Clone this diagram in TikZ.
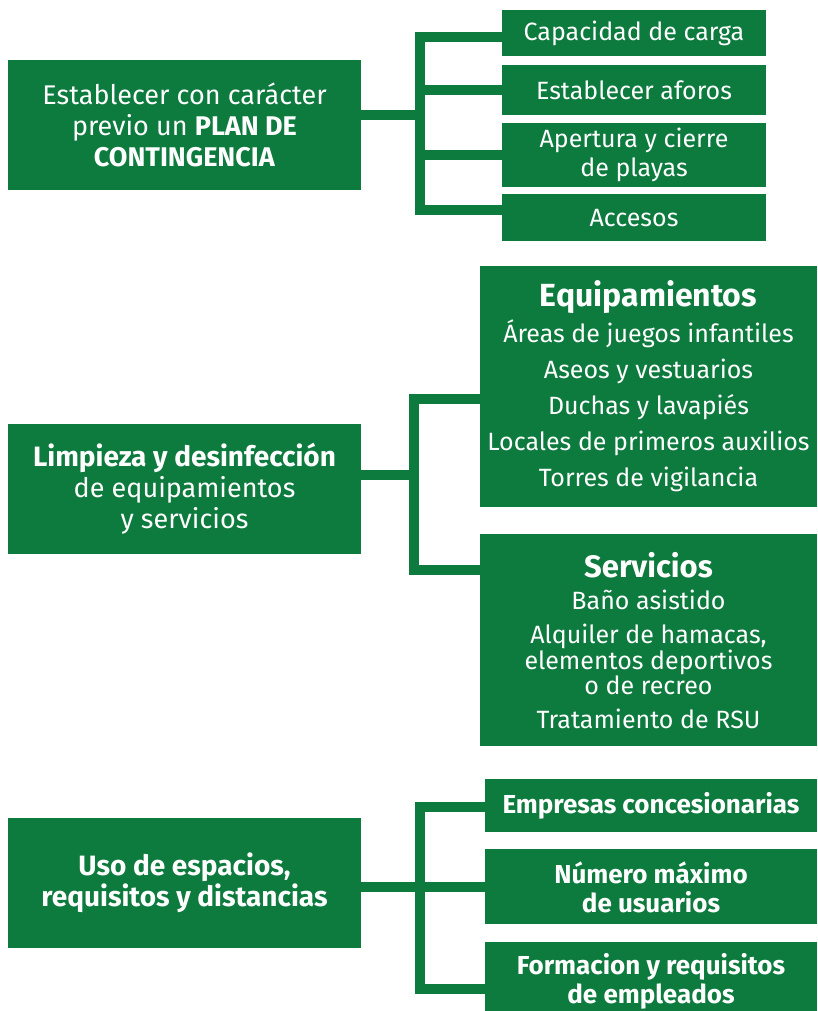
\documentclass[tikz,border=0pt]{standalone}
\usepackage{fontspec}
\setmainfont{Fira Sans}
\usepackage{tikz}
\usetikzlibrary{positioning,calc}
\definecolor{leafgreen}{RGB}{13,122,62}

\begin{document}
\begin{tikzpicture}[
	x=1pt, y=-1pt,
	every node/.style={font=\fontsize{25}{30}\selectfont},
	box/.style={fill=leafgreen, text=white, align=center, inner sep=0pt, minimum width=353pt, minimum height=130pt, font=\fontsize{27}{31}\selectfont},
	leaf/.style={fill=leafgreen, text=white, align=center, inner sep=0pt, minimum width=264pt},
	wide/.style={leaf, minimum width=337pt},
	link/.style={draw=leafgreen, line width=10pt, line join=miter}
	]
	\useasboundingbox (0,0) rectangle (817,1011);
	
	% first group
	\node[box] (Plan) at (184.5,125) {Establecer con carácter\\ previo un \textbf{PLAN DE}\\ \textbf{CONTINGENCIA}};
	\node[leaf, minimum height=46pt] (Carga) at (634,33) {Capacidad de carga};
	\node[leaf, minimum height=50pt, below=9pt of Carga] (Aforos) {Establecer aforos};
	\node[leaf, minimum height=64pt, below=7pt of Aforos, font=\fontsize{25}{29}\selectfont] (Apertura) {Apertura y cierre\\ de playas};
	\node[leaf, minimum height=47pt, below=7pt of Apertura] (Accesos) {Accesos};
	
	\coordinate (J1) at (420,115);
	\draw[link] ([yshift=10pt]Plan.east) -- (J1);
	\draw[link] ([yshift=-4pt]Carga.west) -| (J1) |- ([yshift=8pt]Accesos.west);
	\draw[link] (J1 |- Aforos.west) -- (Aforos.west);
	\draw[link] (J1 |- Apertura.west) -- (Apertura.west);
	
	% second group
	\node[box] (Limpieza) at (184.5,489) {{\fontsize{28}{31}\selectfont\textbf{Limpieza y desinfección}}\\ de equipamientos\\ y servicios};
	\node[wide, minimum height=241pt, font=\fontsize{25}{36}\selectfont] (Equip) at (648.5,386.5) {{\fontsize{32}{36}\selectfont\textbf{Equipamientos}}\\ Áreas de juegos infantiles\\ Aseos y vestuarios\\ Duchas y lavapiés\\ Locales de primeros auxilios\\ Torres de vigilancia};
	\node[wide, minimum height=212pt, below=27pt of Equip, font=\fontsize{25}{24}\selectfont] (Serv) {{\fontsize{31}{36}\selectfont\textbf{Servicios}}\\[8pt] Baño asistido\\[10pt] Alquiler de hamacas,\\ elementos deportivos\\ o de recreo\\[10pt] Tratamiento de RSU};
	
	\coordinate (J2) at (414,475);
	\draw[link] ([yshift=14pt]Limpieza.east) -- (J2);
	\draw[link] ([yshift=-12pt]Equip.west) -| (J2) |- ([yshift=70pt]Serv.west);
	
	% third group
	\node[box, font=\fontsize{28}{31}\selectfont\bfseries] (Uso) at (184.5,883) {Uso de espacios,\\ requisitos y distancias};
	\node[leaf, minimum width=332pt, minimum height=53pt, font=\fontsize{26}{29}\selectfont\bfseries] (Empresas) at (651,805.5) {Empresas concesionarias};
	\node[leaf, minimum width=332pt, minimum height=75pt, below=17pt of Empresas, font=\fontsize{26}{29}\selectfont\bfseries] (Numero) {Número máximo\\ de usuarios};
	\node[leaf, minimum width=332pt, minimum height=80pt, below=17pt of Numero, font=\fontsize{26}{29}\selectfont\bfseries] (Formacion) {Formacion y requisitos\\ de empleados};
	
	\coordinate (J3) at (420,886.5);
	\draw[link] (Uso.east |- Numero.west) -- (Numero.west);
	\draw[link] ([yshift=-1.5pt]Empresas.west) -| (J3) |- ([yshift=-7pt]Formacion.west);
	
\end{tikzpicture}
\end{document}
